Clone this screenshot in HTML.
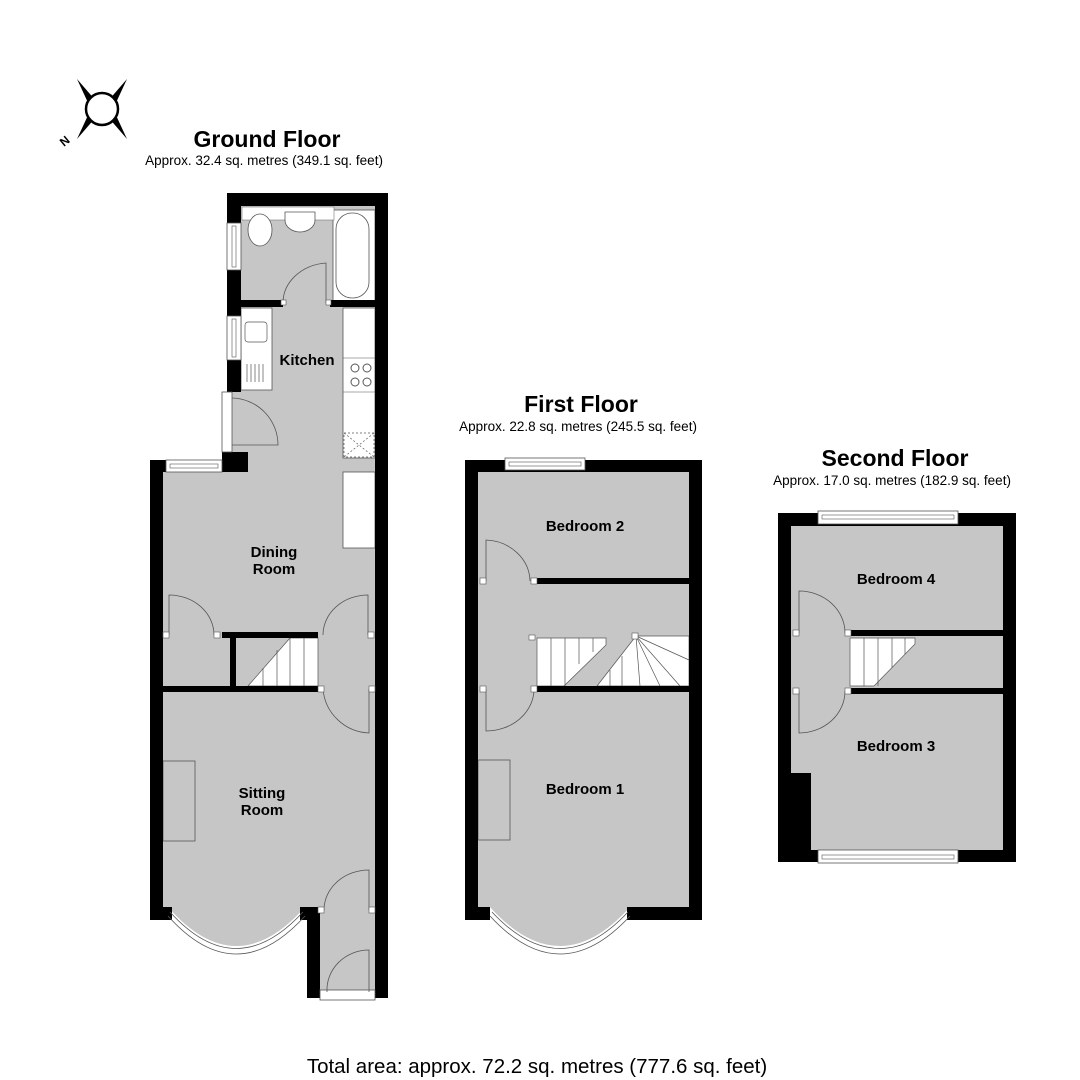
<!DOCTYPE html>
<html><head><meta charset="utf-8"><style>
html,body{margin:0;padding:0;background:#fff;}
svg{display:block;}
text{font-family:"Liberation Sans",Arial,sans-serif;}
.t{font-weight:bold;font-size:23px;text-anchor:middle;}
.s{font-size:13.5px;text-anchor:middle;}
.l{font-weight:bold;font-size:15px;text-anchor:middle;}
</style></head><body>
<svg width="1080" height="1080" viewBox="0 0 1080 1080" xmlns="http://www.w3.org/2000/svg">
<rect width="1080" height="1080" fill="#fff"/>
<g transform="translate(102,109)">
<polygon points="-25,-30 -6,-8 -12,-2" fill="#000"/>
<polygon points="25,-30 6,-8 12,-2" fill="#000"/>
<polygon points="-25,30 -6,8 -12,2" fill="#000"/>
<polygon points="25,30 6,8 12,2" fill="#000"/>
<circle r="16" fill="#fff" stroke="#000" stroke-width="2.5"/>
<text x="-38" y="38" font-size="12" font-weight="bold" transform="rotate(-40 -38 38)">N</text>
</g>
<text class="t" x="267" y="147">Ground Floor</text>
<text class="s" x="264" y="165">Approx. 32.4 sq. metres (349.1 sq. feet)</text>
<text class="t" x="581" y="412">First Floor</text>
<text class="s" x="578" y="431">Approx. 22.8 sq. metres (245.5 sq. feet)</text>
<text class="t" x="895" y="466">Second Floor</text>
<text class="s" x="892" y="485">Approx. 17.0 sq. metres (182.9 sq. feet)</text>
<text x="537" y="1073" font-size="20.5" text-anchor="middle">Total area: approx. 72.2 sq. metres (777.6 sq. feet)</text>

<g>
<rect x="241" y="206" width="134" height="100" fill="#c6c6c6"/>
<rect x="232" y="306" width="143" height="166" fill="#c6c6c6"/>
<rect x="163" y="472" width="212" height="435" fill="#c6c6c6"/>
<path d="M168,907 Q236,985 305,907 Z" fill="#c6c6c6"/>
<rect x="320" y="905" width="55" height="87" fill="#c6c6c6"/>
<rect x="333" y="210" width="42" height="92" fill="#fff" stroke="#555" stroke-width="0.8"/>
<rect x="336" y="213" width="33" height="85" rx="16" fill="#fff" stroke="#555" stroke-width="0.8"/>
<rect x="242" y="207" width="92" height="13" fill="#fff" stroke="#777" stroke-width="0.6"/>
<ellipse cx="260" cy="230" rx="12" ry="16" fill="#fff" stroke="#555" stroke-width="0.8"/>
<path d="M285,212 h30 v8 a15,12 0 0 1 -30,0 z" fill="#fff" stroke="#555" stroke-width="0.8"/>
<rect x="241" y="308" width="31" height="82" fill="#fff" stroke="#555" stroke-width="0.8"/>
<rect x="245" y="322" width="22" height="20" rx="3" fill="#fff" stroke="#555" stroke-width="0.7"/>
<path d="M247,364 v18 M251,364 v18 M255,364 v18 M259,364 v18 M263,364 v18" stroke="#555" stroke-width="0.7"/>
<rect x="343" y="308" width="32" height="150" fill="#fff" stroke="#555" stroke-width="0.8"/>
<circle cx="355" cy="368" r="4" fill="none" stroke="#555"/><circle cx="367" cy="368" r="4" fill="none" stroke="#555"/>
<circle cx="355" cy="382" r="4" fill="none" stroke="#555"/><circle cx="367" cy="382" r="4" fill="none" stroke="#555"/>
<line x1="343" y1="358" x2="375" y2="358" stroke="#555" stroke-width="0.6"/>
<line x1="343" y1="392" x2="375" y2="392" stroke="#555" stroke-width="0.6"/>
<rect x="344" y="433" width="30" height="24" fill="none" stroke="#555" stroke-dasharray="2,2" stroke-width="0.7"/>
<path d="M344,433 L374,457 M374,433 L344,457" stroke="#555" stroke-dasharray="2,2" stroke-width="0.7"/>
<rect x="343" y="472" width="32" height="76" fill="#fff" stroke="#555" stroke-width="0.8"/>
<rect x="236" y="638" width="82" height="48" fill="#c6c6c6"/>
<path d="M248,686 L290,638 L318,638 L318,686 Z" fill="#fff" stroke="#555" stroke-width="0.7"/>
<path d="M290,638 v48 M304,638 v48 M277,650 v36 M263,668 v18" stroke="#555" stroke-width="0.7"/>
<rect x="163" y="761" width="32" height="80" fill="none" stroke="#555" stroke-width="0.8"/>
<g fill="#000">
<rect x="227" y="193" width="161" height="13"/>
<rect x="375" y="193" width="13" height="805"/>
<rect x="227" y="193" width="14" height="30"/>
<rect x="227" y="270" width="14" height="46"/>
<rect x="227" y="360" width="14" height="32"/>
<rect x="241" y="300" width="42" height="7"/>
<rect x="330" y="300" width="45" height="7"/>
<rect x="150" y="460" width="13" height="460"/>
<rect x="150" y="460" width="16" height="12"/>
<rect x="222" y="452" width="18" height="20"/>
<rect x="228" y="452" width="20" height="20"/>
<rect x="222" y="632" width="96" height="6"/>
<rect x="230" y="632" width="6" height="54"/>
<rect x="163" y="686" width="155" height="6"/>
<rect x="150" y="907" width="22" height="13"/>
<rect x="300" y="907" width="20" height="13"/>
<rect x="307" y="907" width="13" height="91"/>
<rect x="307" y="990" width="13" height="8"/>
</g>
<rect x="227" y="223" width="14" height="47" fill="#fff" stroke="#555" stroke-width="0.8"/>
<rect x="232" y="226" width="4" height="41" fill="none" stroke="#555" stroke-width="0.6"/>
<rect x="227" y="316" width="14" height="44" fill="#fff" stroke="#555" stroke-width="0.8"/>
<rect x="232" y="319" width="4" height="38" fill="none" stroke="#555" stroke-width="0.6"/>
<rect x="166" y="460" width="56" height="12" fill="#fff" stroke="#555" stroke-width="0.8"/>
<rect x="170" y="464" width="48" height="4" fill="none" stroke="#555" stroke-width="0.6"/>
<rect x="320" y="990" width="55" height="10" fill="#fff" stroke="#555" stroke-width="0.8"/>
<path d="M170,912 Q236,985 303,912" fill="none" stroke="#555" stroke-width="0.8"/>
<path d="M168,916 Q236,992 305,916" fill="none" stroke="#555" stroke-width="0.8"/>
<rect x="222" y="392" width="10" height="60" fill="#fff" stroke="#555" stroke-width="0.8"/>
<g fill="none" stroke="#555" stroke-width="0.8">
<path d="M283,303 A47,40 0 0 1 326,263 V303"/>
<path d="M232,398 A47,47 0 0 1 278,445 H232"/>
<path d="M169,635 V595 A45,40 0 0 1 214,635"/>
<path d="M368,635 V595 A45,40 0 0 0 323,635"/>
<path d="M323,689 A48,48 0 0 0 369,733 V689"/>
<path d="M369,910 V870 A45,40 0 0 0 324,910"/>
<path d="M369,992 V950 A42,40 0 0 0 327,992"/>
</g>
<g fill="#fff" stroke="#555" stroke-width="0.6">
<rect x="281" y="300" width="5" height="5"/><rect x="326" y="300" width="5" height="5"/>
<rect x="163" y="632" width="6" height="6"/><rect x="214" y="632" width="6" height="6"/>
<rect x="368" y="632" width="6" height="6"/><rect x="318" y="686" width="6" height="6"/>
<rect x="369" y="686" width="6" height="6"/><rect x="318" y="907" width="6" height="6"/>
<rect x="369" y="907" width="6" height="6"/>
</g>
<text class="l" x="307" y="365">Kitchen</text>
<text class="l" x="274" y="557">Dining</text>
<text class="l" x="274" y="574">Room</text>
<text class="l" x="262" y="798">Sitting</text>
<text class="l" x="262" y="815">Room</text>
</g>

<g>
<rect x="478" y="472" width="211" height="435" fill="#c6c6c6"/>
<path d="M490,907 Q560,985 630,907 Z" fill="#c6c6c6"/>
<path d="M537,638 L606,638 L606,645 L564,686 L537,686 Z" fill="#fff" stroke="#555" stroke-width="0.7"/>
<path d="M551,638 v48 M565,638 v48 M579,638 v26 M593,638 v14" stroke="#555" stroke-width="0.7"/>
<path d="M597,686 L636,636 L689,636 L689,686 Z" fill="#fff" stroke="#555" stroke-width="0.7"/>
<path d="M636,636 L689,660 M636,636 L680,686 M636,636 L660,686 M636,636 L640,686 M622,656 v30 M610,670 v16" stroke="#555" stroke-width="0.7"/>
<rect x="478" y="760" width="32" height="80" fill="none" stroke="#555" stroke-width="0.8"/>
<g fill="#000">
<rect x="465" y="460" width="237" height="12"/>
<rect x="465" y="460" width="13" height="460"/>
<rect x="689" y="460" width="13" height="460"/>
<rect x="465" y="907" width="25" height="13"/>
<rect x="627" y="907" width="75" height="13"/>
<rect x="537" y="578" width="152" height="6"/>
<rect x="537" y="686" width="152" height="6"/>
</g>
<rect x="505" y="458" width="80" height="12" fill="#fff" stroke="#555" stroke-width="0.8"/>
<rect x="509" y="462" width="72" height="4" fill="none" stroke="#555" stroke-width="0.6"/>
<path d="M492,912 Q560,985 628,912" fill="none" stroke="#555" stroke-width="0.8"/>
<path d="M490,916 Q560,992 630,916" fill="none" stroke="#555" stroke-width="0.8"/>
<g fill="none" stroke="#555" stroke-width="0.8">
<path d="M486,581 V540 A46,42 0 0 1 530,581"/>
<path d="M534,689 A48,42 0 0 1 486,731 V689"/>
</g>
<g fill="#fff" stroke="#555" stroke-width="0.6">
<rect x="480" y="578" width="6" height="6"/><rect x="531" y="578" width="6" height="6"/>
<rect x="480" y="686" width="6" height="6"/><rect x="531" y="686" width="6" height="6"/>
<rect x="529" y="635" width="6" height="5"/><rect x="632" y="633" width="6" height="6"/>
</g>
<text class="l" x="585" y="531">Bedroom 2</text>
<text class="l" x="585" y="794">Bedroom 1</text>
</g>

<g>
<rect x="791" y="526" width="212" height="324" fill="#c6c6c6"/>
<path d="M850,638 L915,638 L915,644 L874,686 L850,686 Z" fill="#fff" stroke="#555" stroke-width="0.7"/>
<path d="M864,638 v48 M878,638 v48 M892,638 v30 M905,638 v16" stroke="#555" stroke-width="0.7"/>
<g fill="#000">
<rect x="778" y="513" width="238" height="13"/>
<rect x="778" y="513" width="13" height="349"/>
<rect x="1003" y="513" width="13" height="349"/>
<rect x="778" y="850" width="238" height="12"/>
<rect x="778" y="773" width="33" height="89"/>
<rect x="848" y="630" width="155" height="6"/>
<rect x="848" y="688" width="155" height="6"/>
</g>
<rect x="818" y="511" width="140" height="13" fill="#fff" stroke="#555" stroke-width="0.8"/>
<rect x="822" y="515" width="132" height="4" fill="none" stroke="#555" stroke-width="0.6"/>
<rect x="818" y="850" width="140" height="13" fill="#fff" stroke="#555" stroke-width="0.8"/>
<rect x="822" y="855" width="132" height="4" fill="none" stroke="#555" stroke-width="0.6"/>
<g fill="none" stroke="#555" stroke-width="0.8">
<path d="M799,633 V591 A46,42 0 0 1 845,633"/>
<path d="M845,691 A46,42 0 0 1 799,733 V691"/>
</g>
<g fill="#fff" stroke="#555" stroke-width="0.6">
<rect x="793" y="630" width="6" height="6"/><rect x="845" y="630" width="6" height="6"/>
<rect x="793" y="688" width="6" height="6"/><rect x="845" y="688" width="6" height="6"/>
</g>
<text class="l" x="896" y="584">Bedroom 4</text>
<text class="l" x="896" y="751">Bedroom 3</text>
</g>
</svg>
</body></html>
